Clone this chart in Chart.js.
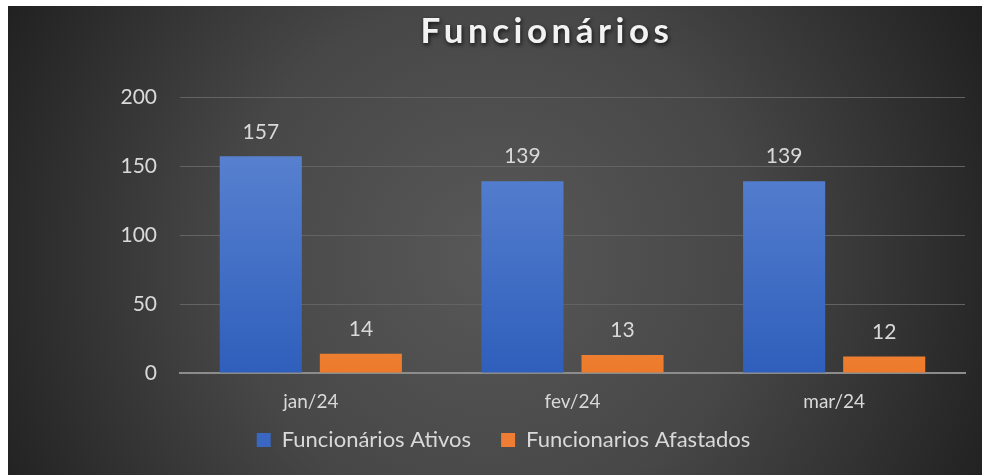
<!DOCTYPE html>
<html>
<head>
<meta charset="utf-8">
<script src="https://cdn.jsdelivr.net/npm/chart.js@4"></script>
<style>
  html, body { margin: 0; padding: 0; background: #fff; }
  #wrap { position: absolute; left: 8px; top: 6px; width: 974px; height: 469px; }
</style>
</head>
<body>
<div id="wrap"><canvas id="myChart"></canvas></div>
<script>
const months = ['jan/24', 'fev/24', 'mar/24'];
const ativos = [157, 139, 139];
const afastados = [14, 13, 12];
const chartTitle = 'Funcionários';

const textColor = '#d9d9d9';

// dark radial background, like the office "dark" chart style
const backgroundPlugin = {
  id: 'darkBackground',
  beforeDraw(chart) {
    const ctx = chart.ctx;
    const g = ctx.createRadialGradient(482, 250, 0, 482, 250, 580);
    g.addColorStop(0, '#585858');
    g.addColorStop(0.45, '#474747');
    g.addColorStop(1, '#1c1c1c');
    ctx.save();
    ctx.fillStyle = g;
    ctx.fillRect(0, 0, chart.width, chart.height);
    ctx.restore();
  }
};

// title with spacing + shadow
const titlePlugin = {
  id: 'shadowTitle',
  afterDraw(chart) {
    const ctx = chart.ctx;
    ctx.save();
    ctx.font = 'bold 35px Lato';
    ctx.letterSpacing = '4.5px';
    ctx.textAlign = 'center';
    ctx.textBaseline = 'alphabetic';
    ctx.shadowColor = 'rgba(0,0,0,0.75)';
    ctx.shadowBlur = 4;
    ctx.shadowOffsetX = 1;
    ctx.shadowOffsetY = 2;
    ctx.fillStyle = '#f2f2f2';
    ctx.fillText(chartTitle, 539, 37);
    ctx.restore();
  }
};

// value labels above bars
const valueLabels = {
  id: 'valueLabels',
  afterDatasetsDraw(chart) {
    const ctx = chart.ctx;
    ctx.save();
    ctx.font = '21px Lato';
    ctx.fillStyle = textColor;
    ctx.textAlign = 'center';
    ctx.textBaseline = 'bottom';
    chart.data.datasets.forEach((ds, i) => {
      chart.getDatasetMeta(i).data.forEach((bar, j) => {
        ctx.fillText(ds.data[j], bar.x, bar.y - 14);
      });
    });
    ctx.restore();
  }
};

function barGradient(top, bottom) {
  return function(context) {
    const area = context.chart.chartArea;
    if (!area) return bottom;
    const g = context.chart.ctx.createLinearGradient(0, area.top, 0, area.bottom);
    g.addColorStop(0, top);
    g.addColorStop(1, bottom);
    return g;
  };
}

new Chart(document.getElementById('myChart'), {
  type: 'bar',
  data: {
    labels: months,
    datasets: [
      {
        label: 'Funcionários Ativos',
        data: ativos,
        backgroundColor: barGradient('#6289d4', '#2f5fbc'),
        categoryPercentage: 0.765,
        barPercentage: 0.82
      },
      {
        label: 'Funcionarios Afastados',
        data: afastados,
        backgroundColor: barGradient('#ffb380', '#ed7a2a'),
        categoryPercentage: 0.765,
        barPercentage: 0.82
      }
    ]
  },
  options: {
    responsive: true,
    maintainAspectRatio: false,
    animation: false,
    layout: { padding: { top: 91, right: 17, left: 34, bottom: 14 } },
    scales: {
      x: {
        grid: { display: false, drawTicks: false },
        border: { display: true, color: '#8c8c8c', width: 2 },
        ticks: { color: textColor, font: { family: 'Lato', size: 19 }, padding: 17 },
        afterFit(scale) {
          scale.height = 26;
          scale._computeLabelArea = () => undefined; // don't clip labels to the short axis box
        }
      },
      y: {
        min: 0,
        max: 200,
        ticks: { stepSize: 50, color: textColor, font: { family: 'Lato', size: 21 }, padding: 23 },
        grid: { color: '#636363', lineWidth: 1, drawTicks: false },
        border: { display: false },
        afterFit(scale) { scale.width = 138; }
      }
    },
    plugins: {
      title: { display: false },
      tooltip: { enabled: false },
      legend: {
        position: 'bottom',
        labels: {
          color: textColor,
          font: { family: 'Lato', size: 22 },
          boxWidth: 14,
          boxHeight: 14,
          padding: 30,
          generateLabels(chart) {
            const cols = ['#3a67c2', '#ef7d33'];
            return chart.data.datasets.map((ds, i) => ({
              text: ds.label,
              fillStyle: cols[i],
              strokeStyle: cols[i],
              lineWidth: 0,
              fontColor: textColor,
              datasetIndex: i
            }));
          }
        }
      }
    }
  },
  plugins: [backgroundPlugin, valueLabels, titlePlugin]
});
</script>
</body>
</html>
